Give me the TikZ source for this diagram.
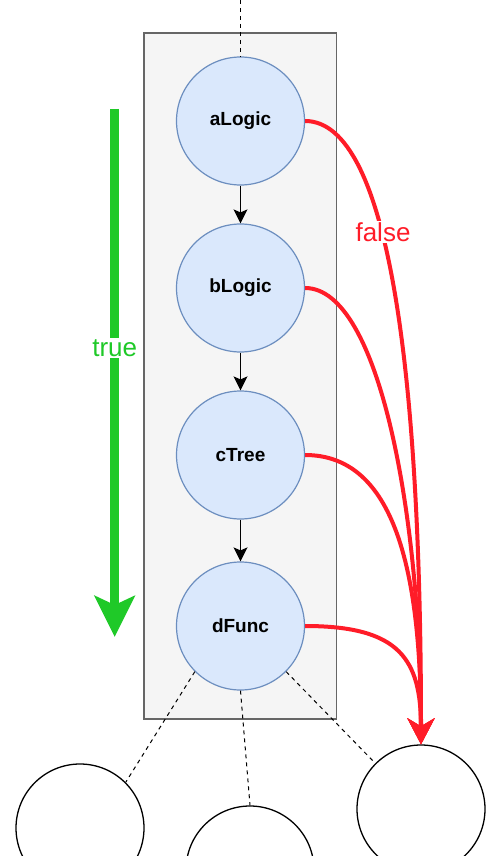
\documentclass[tikz,border=0pt]{standalone}
\usepackage{fontspec}
\setmainfont{Liberation Sans}
\usetikzlibrary{arrows.meta}
\definecolor{nodefill}{HTML}{DAE8FC}
\definecolor{nodeline}{HTML}{6C8EBF}
\definecolor{boxfill}{HTML}{F5F5F5}
\definecolor{boxline}{HTML}{666666}
\definecolor{falsered}{HTML}{FF1C28}
\definecolor{truegreen}{HTML}{1FC928}
\tikzset{
  logicnode/.style={circle, draw=nodeline, fill=nodefill, line width=1.2pt, minimum size=128pt, inner sep=0pt, font=\fontsize{19}{22}\selectfont\bfseries},
  plainnode/.style={circle, draw=black, line width=1.3pt, minimum size=128pt, inner sep=0pt},
  flowarrow/.style={line width=1.2pt, -{Stealth[length=14pt, width=14pt, inset=3pt]}},
  falseedge/.style={draw=falsered, line width=4pt, -{Stealth[length=26pt, width=27pt, inset=8pt]}},
  dashlink/.style={draw=black, line width=1pt, dash pattern=on 4pt off 4pt},
  biglabel/.style={font=\fontsize{26}{30}\selectfont, fill=white, inner sep=1pt}
}
\begin{document}
\begin{tikzpicture}[x=1pt,y=-1pt]
\useasboundingbox (0,0) rectangle (498,856);
\clip (0,0) rectangle (498,856);
% container
\node[draw=boxline, fill=boxfill, line width=1.3pt, minimum width=192.5pt, minimum height=686pt, inner sep=0pt] (box) at (240.25,376) {};
% circles
\node[logicnode] (a) at (240.5,121) {aLogic};
\node[logicnode] (b) at (240.5,288) {bLogic};
\node[logicnode] (c) at (240.5,455) {cTree};
\node[logicnode] (d) at (240.5,626) {dFunc};
\node[plainnode] (bl) at (80,828) {};
\node[plainnode] (bm) at (250,870) {};
\node[plainnode] (br) at (421,809) {};
% top dashed link
\coordinate (top) at (240.5,0);
\draw[dashlink] (top) -- (a.north);
% flow arrows
\draw[flowarrow] (a) -- (b);
\draw[flowarrow] (b) -- (c);
\draw[flowarrow] (c) -- (d);
% dashed links to children
\draw[dashlink] (d.225) -- (bl.45);
\draw[dashlink] (d.south) -- (bm.north);
\draw[dashlink] (d.-45) -- (br.135);
% false edges
\draw[falseedge] (a.east) .. controls +(85,0) and +(0,-365) .. (br.north);
\draw[falseedge] (b.east) .. controls +(75,0) and +(0,-225) .. (br.north);
\draw[falseedge] (c.east) .. controls +(85,0) and +(0,-185) .. (br.north);
\draw[falseedge] (d.east) .. controls +(95,0) and +(0,-85) .. (br.north);
\node[biglabel, text=falsered] (fl) at (383,232) {false};
% true arrow
\coordinate (gtop) at (114.7,109);
\coordinate (gbot) at (114.7,637);
\draw[draw=truegreen, line width=9pt, -{Stealth[length=41pt, width=40pt, inset=9pt]}] (gtop) -- (gbot);
\node[biglabel, text=truegreen] (tl) at (114.7,348) {true};
\end{tikzpicture}
\end{document}
